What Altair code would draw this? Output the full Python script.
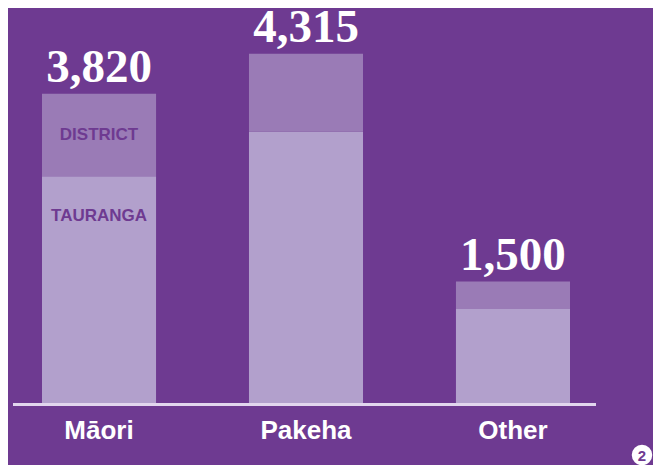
import altair as alt
import pandas as pd

categories = ["Māori", "Pakeha", "Other"]
tauranga = [2800, 3350, 1160]
totals = [3820, 4315, 1500]
total_labels = ["3,820", "4,315", "1,500"]
segment_names = ["TAURANGA", "DISTRICT"]

rows = []
for c, t, tot in zip(categories, tauranga, totals):
    rows.append({"cat": c, "seg": "TAURANGA", "lo": 0, "hi": t})
    rows.append({"cat": c, "seg": "DISTRICT", "lo": t, "hi": tot})
seg_df = pd.DataFrame(rows)
tot_df = pd.DataFrame({"cat": categories, "total": totals, "label": total_labels})
district_df = pd.DataFrame({"cat": [categories[0]], "mid": [(tauranga[0] + totals[0]) / 2], "text": ["DISTRICT"]})
taur_df = pd.DataFrame({"cat": [categories[0]], "pos": [tauranga[0]], "text": ["TAURANGA"]})

BG = "#6E3A91"

xscale = alt.Scale(domain=categories, range=[34, 562], paddingInner=0.449, paddingOuter=0)
yscale = alt.Scale(domain=[0, 4880], nice=False)

x = alt.X("cat:N", sort=categories, scale=xscale,
          axis=alt.Axis(title=None, domain=False, ticks=False, labelAngle=0,
                        labelFont="Liberation Sans", labelFontWeight="bold",
                        labelFontSize=26, labelColor="white", labelPadding=14,
                        grid=False))

bars = alt.Chart(seg_df).mark_bar().encode(
    x=x,
    y=alt.Y("lo:Q", scale=yscale, axis=None),
    y2="hi:Q",
    color=alt.Color("seg:N", scale=alt.Scale(domain=segment_names, range=["#B2A0CC", "#9A7BB6"]), legend=None),
)

tot_text = alt.Chart(tot_df).mark_text(
    font="Liberation Serif", fontWeight="bold", fontSize=47, color="white",
    baseline="alphabetic", dy=-12
).encode(x=alt.X("cat:N", sort=categories, scale=xscale), y=alt.Y("total:Q", scale=yscale), text="label:N")

dist_text = alt.Chart(district_df).mark_text(
    font="Liberation Sans", fontWeight="bold", fontSize=17, color=BG, baseline="middle"
).encode(x=alt.X("cat:N", sort=categories, scale=xscale), y=alt.Y("mid:Q", scale=yscale), text="text:N")

taur_text = alt.Chart(taur_df).mark_text(
    font="Liberation Sans", fontWeight="bold", fontSize=17, color=BG, baseline="middle", dy=40
).encode(x=alt.X("cat:N", sort=categories, scale=xscale), y=alt.Y("pos:Q", scale=yscale), text="text:N")

baseline = alt.Chart(pd.DataFrame({"v": [0]})).mark_rule(
    color="#E2D6EE", strokeWidth=3, yOffset=1.5
).encode(y=alt.Y("v:Q", scale=yscale), x=alt.value(5), x2=alt.value(588))

badge = alt.Chart(pd.DataFrame({"t": ["2"]})).mark_circle(
    size=420, color="white", opacity=1
).encode(x=alt.value(634), y=alt.value(447))

badge_text = alt.Chart(pd.DataFrame({"t": ["2"]})).mark_text(
    font="Liberation Sans", fontWeight="bold", fontSize=15, color=BG, baseline="middle"
).encode(x=alt.value(634), y=alt.value(447.5), text="t:N")

chart = alt.layer(bars, baseline, tot_text, dist_text, taur_text, badge, badge_text).properties(
    width=645, height=395,
    background=BG,
    padding={"left": 0, "top": 0, "right": 0, "bottom": 62},
    autosize=alt.AutoSizeParams(type="none"),
).configure_view(stroke=None)

chart.save("out.html", embed_options={"renderer": "svg", "actions": False})
